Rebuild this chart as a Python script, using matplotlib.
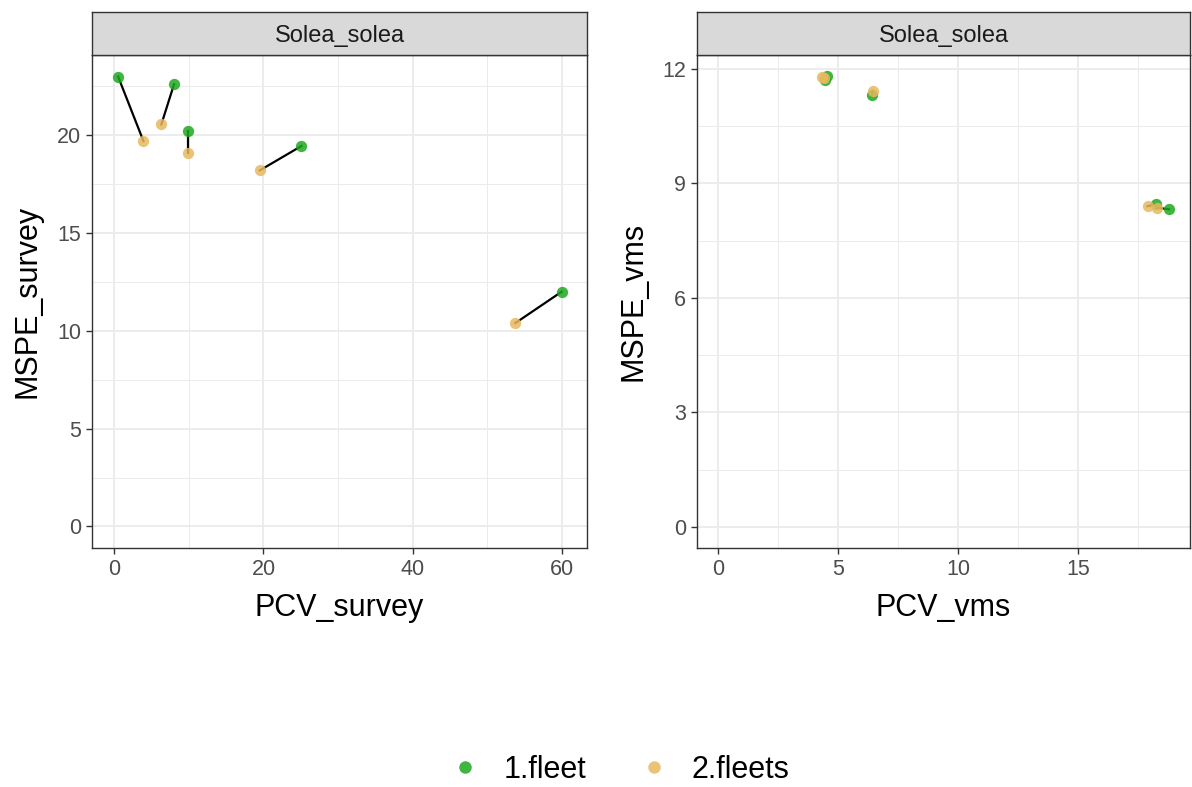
import matplotlib
matplotlib.use("Agg")
import matplotlib.pyplot as plt
from matplotlib.ticker import MultipleLocator
from matplotlib.lines import Line2D

plt.rcParams['font.family'] = ['Liberation Sans', 'DejaVu Sans']

# survey panel: one pair per model (1 fleet vs 2 fleets)
pcv_survey_1 = [0.5, 8.0, 9.9, 25.1, 60.0]
mspe_survey_1 = [23.0, 22.6, 20.2, 19.45, 12.0]
pcv_survey_2 = [3.9, 6.3, 9.9, 19.5, 53.8]
mspe_survey_2 = [19.7, 20.55, 19.1, 18.2, 10.4]

# vms panel
pcv_vms_1 = [4.45, 4.55, 6.4, 18.25, 18.8]
mspe_vms_1 = [11.7, 11.8, 11.3, 8.45, 8.32]
pcv_vms_2 = [4.35, 4.4, 6.45, 17.9, 18.3]
mspe_vms_2 = [11.78, 11.75, 11.42, 8.4, 8.36]

GREEN = '#1fa81f'
ORANGE = '#e8b960'
W, H = 1192, 787

fig = plt.figure(figsize=(W / 100, H / 100), dpi=100)


def panel(x0, x1, xs1, ys1, xs2, ys2, xlab, ylab, xlim, ylim, xmaj, ymaj):
    ax = fig.add_axes([x0 / W, 1 - 548 / H, (x1 - x0) / W, (548 - 55) / H])
    ax.set_facecolor('white')
    for a, b, c, d in zip(xs1, ys1, xs2, ys2):
        ax.plot([a, c], [b, d], color='black', lw=1.6, zorder=2)
    ax.scatter(xs1, ys1, s=66, color=GREEN, alpha=0.85, lw=0, zorder=3)
    ax.scatter(xs2, ys2, s=66, color=ORANGE, alpha=0.85, lw=0, zorder=3)
    ax.set_xlim(*xlim)
    ax.set_ylim(*ylim)
    ax.xaxis.set_major_locator(MultipleLocator(xmaj))
    ax.yaxis.set_major_locator(MultipleLocator(ymaj))
    ax.xaxis.set_minor_locator(MultipleLocator(xmaj / 2))
    ax.yaxis.set_minor_locator(MultipleLocator(ymaj / 2))
    ax.grid(which='major', color='#ebebeb', lw=1.3, zorder=0)
    ax.grid(which='minor', color='#ebebeb', lw=0.7, zorder=0)
    ax.set_axisbelow(True)
    for s in ax.spines.values():
        s.set_color('#333333')
        s.set_linewidth(1.0)
    ax.tick_params(which='major', length=4, color='#333333', labelsize=15.5,
                   labelcolor='#4d4d4d', width=1, pad=4)
    ax.tick_params(which='minor', length=0)
    ax.set_xlabel(xlab, fontsize=22, labelpad=9)
    ax.set_ylabel(ylab, fontsize=22, labelpad=10)
    # facet strip
    st = fig.add_axes([x0 / W, 1 - 55 / H, (x1 - x0) / W, 43 / H])
    st.set_facecolor('#d9d9d9')
    st.set_xticks([])
    st.set_yticks([])
    for s in st.spines.values():
        s.set_color('#333333')
        s.set_linewidth(1.0)
    st.text(0.5, 0.45, 'Solea_solea', ha='center', va='center', fontsize=17,
            color='#1a1a1a', transform=st.transAxes)
    return ax


panel(92, 587, pcv_survey_1, mspe_survey_1, pcv_survey_2, mspe_survey_2,
      'PCV_survey', 'MSPE_survey', (-3.0, 63.4), (-1.1, 24.1), 20, 5)
panel(697, 1190, pcv_vms_1, mspe_vms_1, pcv_vms_2, mspe_vms_2,
      'PCV_vms', 'MSPE_vms', (-0.88, 19.67), (-0.55, 12.36), 5, 3)

handles = [Line2D([], [], marker='o', ls='', color=GREEN, alpha=0.85, markersize=9, mew=0),
           Line2D([], [], marker='o', ls='', color=ORANGE, alpha=0.85, markersize=9, mew=0)]
fig.legend(handles, ['1.fleet', '2.fleets'], loc='center', bbox_to_anchor=(0.52, 1 - 770 / H),
           ncol=2, frameon=False, fontsize=22, handlelength=1.0, handletextpad=0.74,
           columnspacing=1.72)

fig.savefig('out.png', dpi=100)
